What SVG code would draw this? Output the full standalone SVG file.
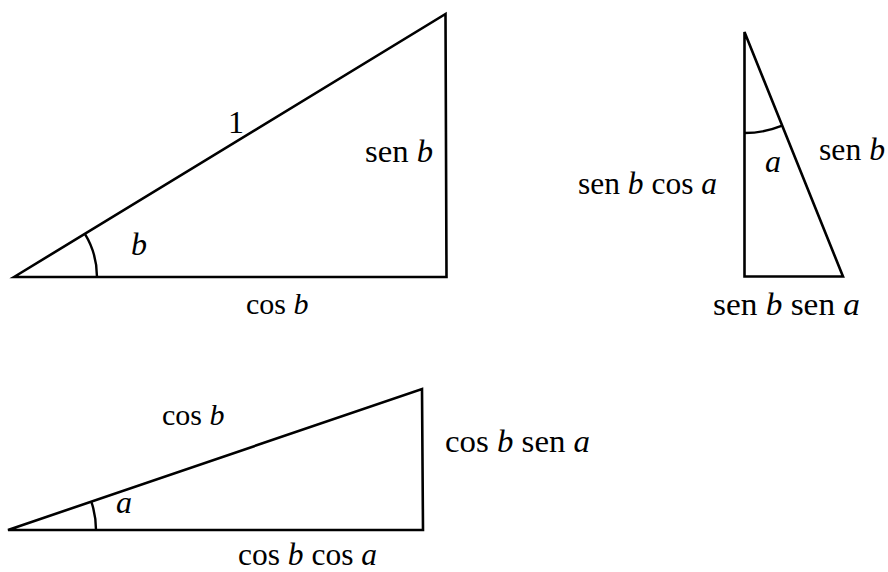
<svg xmlns="http://www.w3.org/2000/svg" width="888" height="572" viewBox="0 0 888 572">
<style>
.tri{fill:none;stroke:#000;stroke-width:2.6;stroke-linejoin:miter}
.arc{fill:none;stroke:#000;stroke-width:2.4}
text{font-family:"Liberation Serif","DejaVu Serif",serif;font-size:32px;fill:#000}
.i{font-style:italic}
.s{font-size:30px}
</style>
<rect width="888" height="572" fill="#fff"/>
<g id="triangle-b">
<path class="tri" d="M14 277 L445.5 14 L446.5 277 Z"/>
<path class="arc" d="M97 277 A83 83 0 0 0 84.9 233.8"/>
<text x="228" y="133">1</text>
<text x="365" y="162" textLength="68" lengthAdjust="spacingAndGlyphs">sen <tspan class="i">b</tspan></text>
<text class="i" x="131" y="255">b</text>
<text class="s" x="246" y="314">cos <tspan class="i">b</tspan></text>
</g>
<g id="triangle-sen-b">
<path class="tri" d="M744.5 32 L843 276.5 L744.5 276.5 Z"/>
<path class="arc" d="M744.5 133 A101 101 0 0 0 782.2 125.7"/>
<text class="i" x="765" y="172">a</text>
<text x="819" y="160" textLength="66" lengthAdjust="spacingAndGlyphs">sen <tspan class="i">b</tspan></text>
<text x="578" y="194" textLength="139" lengthAdjust="spacingAndGlyphs">sen <tspan class="i">b</tspan> cos <tspan class="i">a</tspan></text>
<text x="713" y="315" textLength="147" lengthAdjust="spacingAndGlyphs">sen <tspan class="i">b</tspan> sen <tspan class="i">a</tspan></text>
</g>
<g id="triangle-cos-b">
<path class="tri" d="M8 530 L422 389 L423 530 Z"/>
<path class="arc" d="M96 530 A88 88 0 0 0 91.3 501.6"/>
<text class="i" x="116" y="513">a</text>
<text class="s" x="162" y="425">cos <tspan class="i">b</tspan></text>
<text x="445" y="452" textLength="145" lengthAdjust="spacingAndGlyphs">cos <tspan class="i">b</tspan> sen <tspan class="i">a</tspan></text>
<text x="238" y="565" textLength="139" lengthAdjust="spacingAndGlyphs">cos <tspan class="i">b</tspan> cos <tspan class="i">a</tspan></text>
</g>
<g id="connectors"/>
</svg>
